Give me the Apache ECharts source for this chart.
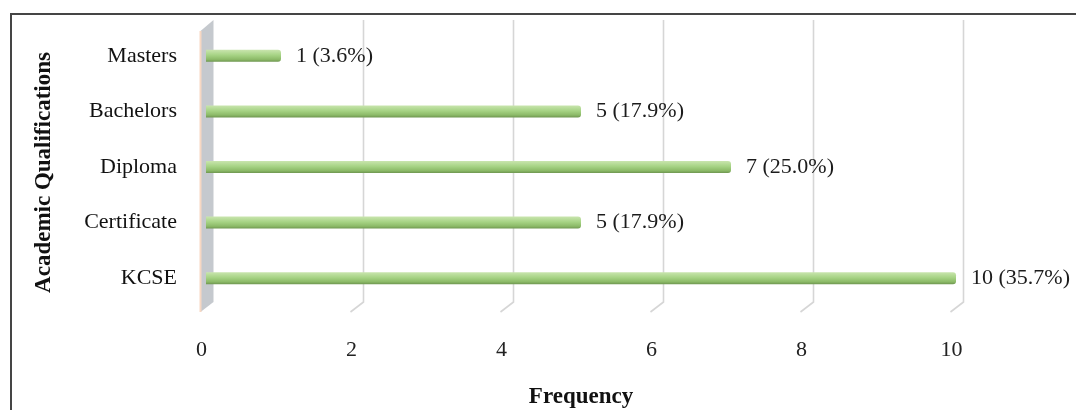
<!DOCTYPE html>
<html>
<head>
<meta charset="utf-8">
<script src="https://cdn.jsdelivr.net/npm/echarts@6/dist/echarts.min.js"></script>
<style>
  html, body { margin: 0; padding: 0; background: #fff; }
  #chart { width: 1076px; height: 410px; }
</style>
</head>
<body>
<div id="chart"></div>
<script>
// data, bottom to top as echarts lays out categories
const categories = ['KCSE', 'Certificate', 'Diploma', 'Bachelors', 'Masters'];
const frequency = [10, 5, 7, 5, 1];
const percent = ['35.7', '17.9', '25.0', '17.9', '3.6'];
const xTicks = [0, 2, 4, 6, 8, 10];

const serif = '"Liberation Serif", "Times New Roman", serif';
const BACK = 7.5, FRONT = -5.5;

const chart = echarts.init(document.getElementById('chart'));

// pseudo-3d gridlines: vertical on the back wall, slanting onto the floor
function gridRender(params, api) {
  const cs = params.coordSys;
  const x = api.coord([api.value(0), 0])[0];
  const bottom = cs.y + cs.height;
  return {
    type: 'polyline',
    shape: { points: [[x + BACK, cs.y - 8], [x + BACK, bottom - 4], [x + FRONT, bottom + 6]] },
    style: { stroke: '#d6d6d6', lineWidth: 1.6, fill: null }
  };
}

// side wall at x = 0
function wallRender(params, api) {
  const cs = params.coordSys;
  const x = api.coord([0, 0])[0];
  const bottom = cs.y + cs.height;
  return {
    type: 'group',
    children: [{
      type: 'polygon',
      shape: { points: [[x + FRONT, cs.y + 3], [x + BACK, cs.y - 8], [x + BACK, bottom - 4], [x + FRONT, bottom + 6]] },
      style: { fill: '#c5c9ce' }
    }, {
      type: 'line',
      shape: { x1: x + FRONT, y1: cs.y + 3, x2: x + FRONT, y2: bottom + 6 },
      style: { stroke: '#f7d8c3', lineWidth: 2 }
    }]
  };
}

const option = {
  animation: false,
  backgroundColor: '#fff',
  graphic: [{
    type: 'rect',
    shape: { x: 11, y: 14, width: 1200, height: 600 },
    style: { fill: null, stroke: '#454545', lineWidth: 2 },
    silent: true
  }],
  grid: { left: 206, right: 120, top: 28, bottom: 104, outerBoundsMode: 'none', containLabel: false },
  xAxis: {
    type: 'value',
    min: 0,
    max: 10,
    interval: 2,
    name: 'Frequency',
    nameLocation: 'middle',
    nameGap: 80,
    nameTextStyle: { fontFamily: serif, fontSize: 23, fontWeight: 'bold', color: '#111' },
    axisLine: { show: false },
    axisTick: { show: false },
    splitLine: { show: false },
    axisLabel: { fontFamily: serif, fontSize: 22, color: '#222', margin: 33, padding: [0, 9, 0, 0] }
  },
  yAxis: {
    type: 'category',
    data: categories,
    name: 'Academic Qualifications',
    nameLocation: 'middle',
    nameGap: 150,
    nameRotate: 90,
    nameTextStyle: { fontFamily: serif, fontSize: 23, fontWeight: 'bold', color: '#111', padding: [0, 11, 0, 0] },
    axisLine: { show: false },
    axisTick: { show: false },
    splitLine: { show: false },
    axisLabel: { fontFamily: serif, fontSize: 22, color: '#111', margin: 29 }
  },
  series: [{
    type: 'custom',
    renderItem: gridRender,
    data: xTicks.filter(v => v > 0).map(v => [v, 0]),
    encode: { x: 0, y: 1 },
    silent: true,
    z: 1
  }, {
    type: 'custom',
    renderItem: wallRender,
    data: [[0, 0]],
    encode: { x: 0, y: 1 },
    silent: true,
    z: 2
  }, {
    type: 'bar',
    data: frequency,
    barWidth: 12,
    z: 3,
    itemStyle: {
      borderRadius: [0, 3, 3, 0],
      color: new echarts.graphic.LinearGradient(0, 0, 0, 1, [
        { offset: 0, color: '#c9e5ae' },
        { offset: 0.45, color: '#a6d384' },
        { offset: 0.8, color: '#8cba68' },
        { offset: 1, color: '#6e9650' }
      ])
    },
    label: {
      show: true,
      position: 'right',
      distance: 15,
      fontFamily: serif,
      fontSize: 22,
      color: '#1c1c1c',
      formatter: p => p.value + ' (' + percent[p.dataIndex] + '%)'
    }
  }]
};

chart.setOption(option);
</script>
</body>
</html>
